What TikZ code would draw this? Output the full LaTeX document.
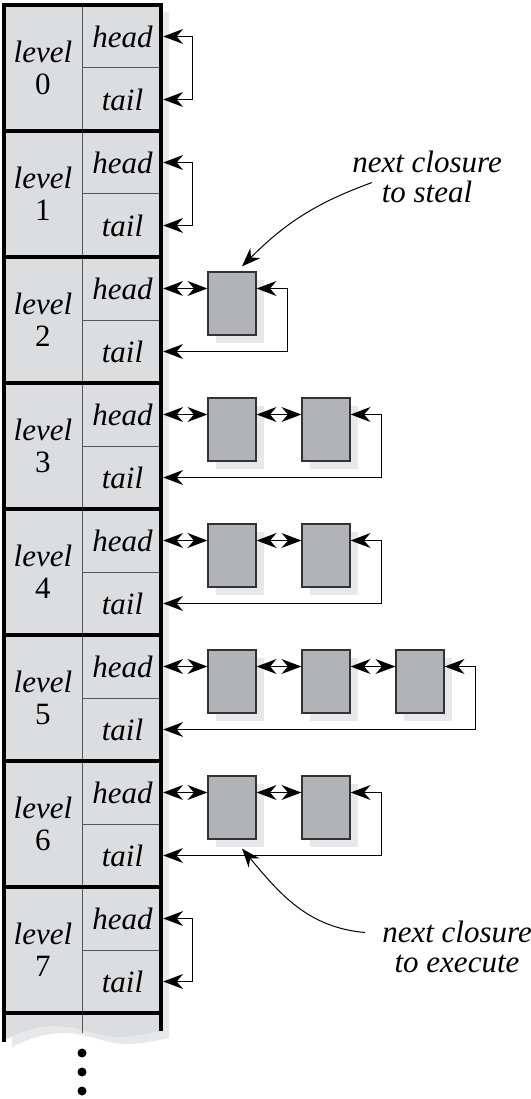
\documentclass[tikz,border=0pt]{standalone}
\usepackage{fontspec}
\setmainfont{Liberation Serif}
\usetikzlibrary{arrows.meta,calc}
\definecolor{tablefill}{HTML}{DCDDDF}
\definecolor{shadowgray}{HTML}{E7E8E9}
\definecolor{boxfill}{HTML}{B2B3B6}
\definecolor{boxline}{HTML}{333333}
\definecolor{gridline}{HTML}{555555}
\begin{document}
\begin{tikzpicture}[x=1pt,y=-1pt,
  >={Stealth[scale=2.5]},
  lbl/.style={font=\fontsize{31}{30}\selectfont\itshape, inner sep=0pt, align=center},
  levelcell/.style={minimum width=78pt, minimum height=126pt, inner sep=0pt, align=center, font=\fontsize{31}{32}\selectfont},
  headcell/.style={minimum width=81pt, minimum height=63pt, inner sep=0pt, font=\fontsize{31}{32}\selectfont\itshape},
  closure/.style={draw=boxline, line width=1.2pt, fill=boxfill, minimum width=48pt, minimum height=63pt, inner sep=0pt},
  conn/.style={line width=1.1pt, <->},
  pointer/.style={line width=1pt, ->},
  thickrule/.style={line width=3.5pt, black},
  thinrule/.style={line width=1pt, gridline},
  dot/.style={circle, fill=black, minimum size=9pt, inner sep=0pt}
]
\useasboundingbox (0,0) rectangle (530,1099);

% table shadow and fill
\begin{scope}[shift={(8,7)}]
\fill[shadowgray] (4,5) -- (161,5) -- (161,1031)
  .. controls (150,1033) and (140,1036) .. (120,1037)
  .. controls (100,1038) and (80,1026) .. (55,1026)
  .. controls (40,1026) and (25,1030) .. (4,1040) -- cycle;
\end{scope}
\fill[tablefill] (4,5) -- (161,5) -- (161,1031)
  .. controls (150,1033) and (140,1036) .. (120,1037)
  .. controls (100,1038) and (80,1026) .. (55,1026)
  .. controls (40,1026) and (25,1030) .. (4,1040) -- cycle;

% thin rules
\draw[thinrule] (82,5) -- (82,1033);
\foreach \k in {0,...,7}{
  \draw[thinrule] (82,5+126*\k+63) -- (161,5+126*\k+63);
}
% thick rules
\draw[thickrule] (4,5) -- (4,1042);
\draw[thickrule] (161,5) -- (161,1031);
\foreach \k in {0,...,8}{
  \draw[thickrule, line cap=rect] (4,5+126*\k) -- (161,5+126*\k);
}

% cells
\foreach \k in {0,...,7}{
  \node[levelcell] (L\k) at (43,5+126*\k+63) {{\itshape level}\\\k};
  \node[headcell] (h\k) at (122.5,5+126*\k+31.5) {head};
  \node[headcell] (t\k) at (122.5,5+126*\k+94.5) {tail};
}

% closures
\foreach \k/\n in {2/1,3/2,4/2,5/3,6/2}{
  \foreach \i in {1,...,\n}{
    \fill[shadowgray] (216+94*\i-94,5+126*\k+23) rectangle ++(48,63);
    \node[closure] (b\k\i) at (232+94*\i-94,5+126*\k+46.5) {};
  }
}

% connectors for empty levels
\foreach \k in {0,1,7}{
  \draw[conn] (h\k.east) -- ++(29,0) |- (t\k.east);
}

% connectors for levels with closures
\foreach \k/\n in {2/1,3/2,4/2,5/3,6/2}{
  \draw[conn] (h\k.east) -- (h\k.east -| b\k1.west);
  \draw[conn] (h\k.east -| b\k\n.east) -- ++(31,0) |- (t\k.east);
}
\foreach \k/\i/\j in {3/1/2,4/1/2,5/1/2,5/2/3,6/1/2}{
  \draw[conn] (h\k.east -| b\k\i.east) -- (h\k.east -| b\k\j.west);
}

% labels
\node[lbl] (steal) at (427,176.5) {next closure\\to steal};
\node[lbl] (exec) at (457,946.5) {next closure\\to execute};
\draw[pointer] ([shift={(20,6)}]steal.west) to[out=200,in=45] ([shift={(10,-5)}]b21.north);
\draw[pointer] ([shift={(-17,-14)}]exec.west) to[out=175,in=-50] ([shift={(10,9)}]b61.south);

% dots
\node[dot] (d1) at (82,1053) {};
\node[dot] (d2) at (82,1072) {};
\node[dot] (d3) at (82,1091) {};
\end{tikzpicture}
\end{document}
